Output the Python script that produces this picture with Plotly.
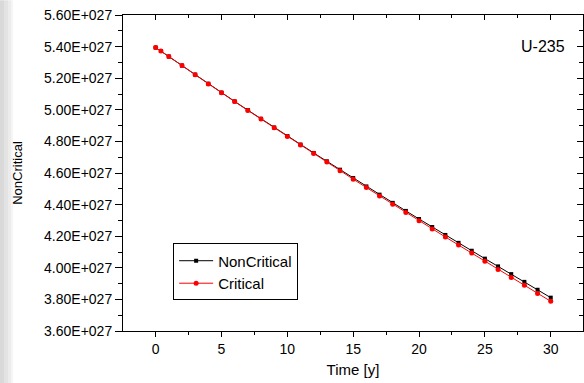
import plotly.graph_objects as go

# ---- data (values in units of 1E27) ----
time_y = [0, 0.4, 1, 2, 3, 4, 5, 6, 7, 8, 9, 10, 11, 12, 13, 14, 15, 16, 17, 18, 19,
          20, 21, 22, 23, 24, 25, 26, 27, 28, 29, 30]
noncritical = [5.394, 5.372, 5.337, 5.280, 5.223, 5.165, 5.109, 5.053, 4.998, 4.943, 4.888,
               4.834, 4.780, 4.727, 4.674, 4.621, 4.568, 4.515, 4.463, 4.411, 4.360,
               4.309, 4.258, 4.208, 4.158, 4.108, 4.058, 4.009, 3.960, 3.911, 3.861, 3.811]
critical = [5.394, 5.372, 5.337, 5.280, 5.222, 5.164, 5.108, 5.052, 4.996, 4.941, 4.886,
            4.831, 4.777, 4.723, 4.669, 4.615, 4.561, 4.508, 4.455, 4.402, 4.350,
            4.298, 4.246, 4.195, 4.144, 4.093, 4.041, 3.990, 3.939, 3.889, 3.838, 3.788]
scale = 1e27

y_tick_vals = [3.6, 3.8, 4.0, 4.2, 4.4, 4.6, 4.8, 5.0, 5.2, 5.4, 5.6]
y_tick_text = ["3.60E+027", "3.80E+027", "4.00E+027", "4.20E+027", "4.40E+027", "4.60E+027",
               "4.80E+027", "5.00E+027", "5.20E+027", "5.40E+027", "5.60E+027"]
x_tick_vals = [0, 5, 10, 15, 20, 25, 30]
x_tick_text = ["0", "5", "10", "15", "20", "25", "30"]

FONT = "Liberation Sans, Arial, sans-serif"
xr = [-2.48, 32.45]
yr = [3.6 * scale, 5.6 * scale]

fig = go.Figure()
fig.add_trace(go.Scatter(x=time_y, y=[v * scale for v in noncritical], name="NonCritical",
                         mode="lines+markers", line=dict(color="black", width=1),
                         marker=dict(symbol="square", size=4, color="black")))
fig.add_trace(go.Scatter(x=time_y, y=[v * scale for v in critical], name="Critical",
                         mode="lines+markers", line=dict(color="#ff0000", width=1),
                         marker=dict(symbol="circle", size=5, color="#ff0000")))
# helper trace so the mirrored (inside-tick) axes are drawn
fig.add_trace(go.Scatter(x=[None], y=[None], xaxis="x2", yaxis="y2", showlegend=False,
                         hoverinfo="skip"))

fig.update_layout(
    width=584, height=383,
    margin=dict(l=123, r=1, t=15, b=52),
    paper_bgcolor="white", plot_bgcolor="white",
    font=dict(family=FONT, color="black", size=14),
    showlegend=True,
    legend=dict(x=0.109, y=0.277, xanchor="left", yanchor="top",
                bordercolor="black", borderwidth=1, bgcolor="white",
                font=dict(size=15, family=FONT), tracegroupgap=0,
                itemwidth=34),
    xaxis=dict(range=xr, tickmode="array", tickvals=x_tick_vals, ticktext=x_tick_text,
               ticks="outside", ticklen=5, tickwidth=1, tickcolor="black",
               showline=True, linecolor="black", linewidth=1, showgrid=False, zeroline=False,
               tickfont=dict(size=14),
               minor=dict(tickmode="linear", tick0=0, dtick=2.5, ticks="outside",
                          ticklen=3, tickcolor="black", showgrid=False),
               title=dict(text="Time [y]", font=dict(size=15), standoff=8)),
    yaxis=dict(range=yr, tickmode="array", tickvals=[v * scale for v in y_tick_vals],
               ticktext=y_tick_text, ticks="outside", ticklen=7, tickwidth=1,
               tickcolor="black", showline=True, linecolor="black", linewidth=1,
               showgrid=False, zeroline=False, tickfont=dict(size=14),
               minor=dict(tickmode="linear", tick0=3.6 * scale, dtick=0.1 * scale,
                          ticks="outside", ticklen=4, tickcolor="black", showgrid=False),
               title=dict(text="NonCritical", font=dict(size=13), standoff=18)),
    xaxis2=dict(overlaying="x", side="top", range=xr, tickmode="array",
                tickvals=x_tick_vals, showticklabels=False, ticks="inside", ticklen=5,
                tickcolor="black", showline=True, linecolor="black", linewidth=1,
                showgrid=False, zeroline=False,
                minor=dict(tickmode="linear", tick0=0, dtick=2.5, ticks="inside",
                           ticklen=3, tickcolor="black", showgrid=False)),
    yaxis2=dict(overlaying="y", side="right", range=yr, tickmode="array",
                tickvals=[v * scale for v in y_tick_vals], showticklabels=False,
                ticks="inside", ticklen=6, tickcolor="black", showline=True,
                linecolor="black", linewidth=1, showgrid=False, zeroline=False,
                minor=dict(tickmode="linear", tick0=3.6 * scale, dtick=0.1 * scale,
                           ticks="inside", ticklen=4, tickcolor="black", showgrid=False)),
    annotations=[dict(text="U-235", xref="paper", yref="paper", x=0.965, y=0.9,
                      xanchor="right", yanchor="middle", showarrow=False,
                      font=dict(size=16, family=FONT))],
)

# light grey strip at the left edge of the image
px_w = 460.0
px_h = 316.3
strips = [(0, 4, "#d9d9d9"), (4, 8, "#e3e3e3"), (8, 11, "#ececec"), (11, 13, "#f5f5f5")]
for a, b, c in strips:
    fig.add_shape(type="rect", xref="paper", yref="paper",
                  x0=(a - 123) / px_w, x1=(b - 123) / px_w,
                  y0=(331 - 383) / px_h, y1=(331 - 0) / px_h,
                  fillcolor=c, line=dict(width=0), layer="below")

fig.write_html("out.html")
